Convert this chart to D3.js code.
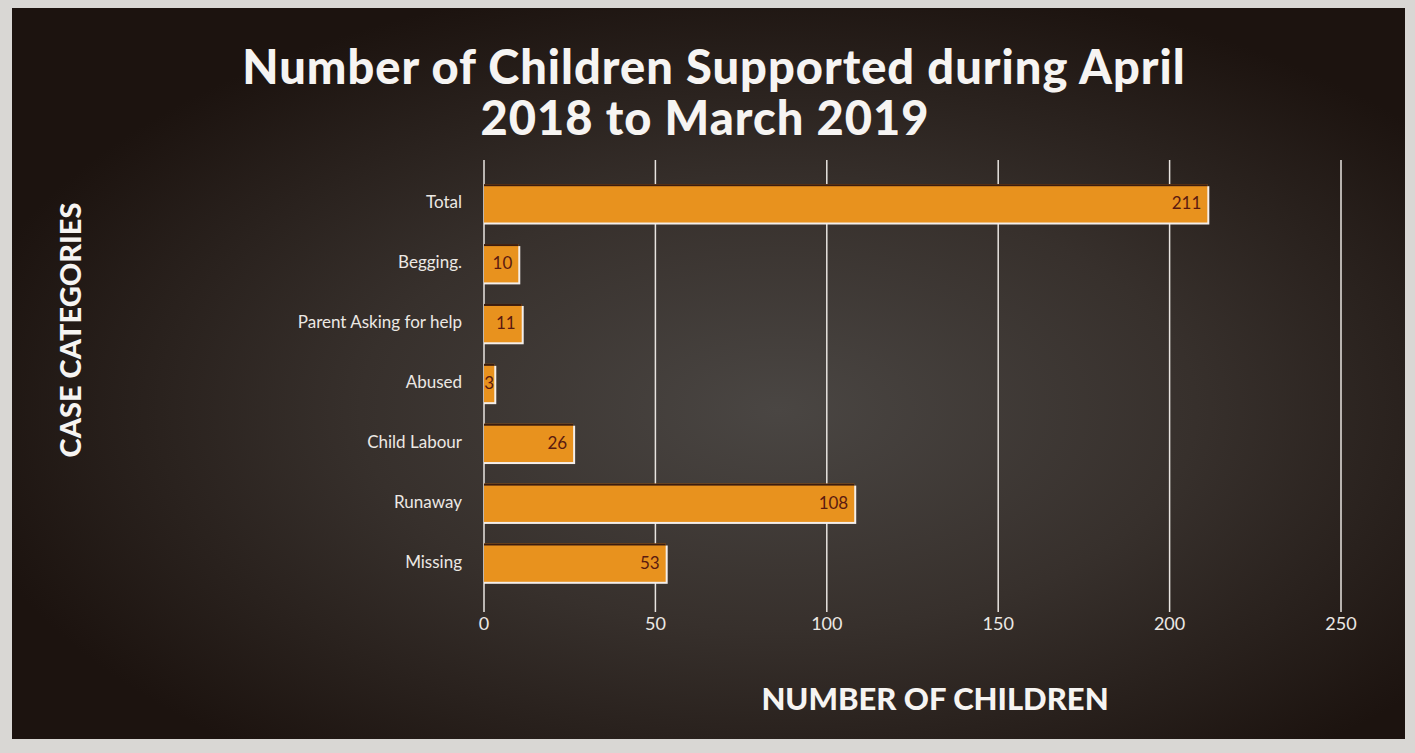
<!DOCTYPE html>
<html>
<head>
<meta charset="utf-8">
<script src="https://cdn.jsdelivr.net/npm/d3@7"></script>
<style>
  body { margin: 0; background: #d9d7d4; }
  svg { display: block; }
  text { font-family: "Lato", "Open Sans", sans-serif; }
</style>
</head>
<body>
<svg></svg>
<script>
var width = 1415,
    height = 753;

// data
var categories = ["Total", "Begging.", "Parent Asking for help", "Abused", "Child Labour", "Runaway", "Missing"];
var values = [211, 10, 11, 3, 26, 108, 53];
var ticks = [0, 50, 100, 150, 200, 250];

var margin = { top: 183, left: 484, right: 74, bottom: 170 };

var svg = d3.select("svg")
    .attr("width", width)
    .attr("height", height);

var defs = svg.append("defs");
var grad = defs.append("radialGradient")
    .attr("id", "bg")
    .attr("cx", "55%").attr("cy", "55%").attr("r", "60%");
grad.append("stop").attr("offset", "0%").attr("stop-color", "#4a4643");
grad.append("stop").attr("offset", "50%").attr("stop-color", "#37302c");
grad.append("stop").attr("offset", "100%").attr("stop-color", "#1c130f");

// dark card
svg.append("rect")
    .attr("x", 12).attr("y", 8)
    .attr("width", width - 22).attr("height", height - 22)
    .attr("fill", "url(#bg)");

var x = d3.scaleLinear()
    .domain([0, 250])
    .range([margin.left, width - margin.right]);

var y = d3.scaleBand()
    .domain(categories)
    .range([margin.top, height - margin.bottom])
    .paddingInner(0.36)
    .paddingOuter(0.02);

// grid
svg.append("g")
    .selectAll("line")
    .data(ticks)
    .enter().append("line")
    .attr("x1", d => x(d)).attr("x2", d => x(d))
    .attr("y1", 160).attr("y2", 612)
    .attr("stroke", "#e8e4e0")
    .attr("stroke-width", 1.5);

svg.append("g")
    .selectAll("text")
    .data(ticks)
    .enter().append("text")
    .attr("x", d => x(d))
    .attr("y", 630)
    .attr("text-anchor", "middle")
    .attr("fill", "#ece8e4")
    .attr("font-size", 18)
    .text(d => d);

// bars
var rows = categories.map((c, i) => ({ name: c, value: values[i] }));

var bar = svg.append("g")
    .selectAll("g")
    .data(rows)
    .enter().append("g")
    .attr("transform", d => "translate(0," + y(d.name) + ")");

// white highlight under/right of bar
bar.append("rect")
    .attr("x", x(0))
    .attr("y", 2)
    .attr("width", d => x(d.value) - x(0) + 2)
    .attr("height", y.bandwidth())
    .attr("fill", "#f4eeea");

bar.append("rect")
    .attr("x", x(0))
    .attr("y", 0)
    .attr("width", d => x(d.value) - x(0))
    .attr("height", y.bandwidth())
    .attr("fill", "#e8921e");

bar.append("rect")
    .attr("x", x(0))
    .attr("y", 0)
    .attr("width", d => x(d.value) - x(0))
    .attr("height", 2)
    .attr("fill", "#3a1c10");

bar.append("text")
    .attr("x", d => x(d.value) - x(0) < 30 ? (x(d.value) + x(0)) / 2 : x(d.value) - 6)
    .attr("y", y.bandwidth() / 2)
    .attr("dy", "0.36em")
    .attr("text-anchor", d => x(d.value) - x(0) < 30 ? "middle" : "end")
    .attr("fill", "#5a1a10")
    .attr("font-size", 17)
    .text(d => d.value);

// category labels
bar.append("text")
    .attr("x", x(0) - 22)
    .attr("y", y.bandwidth() / 2)
    .attr("dy", "0.3em")
    .attr("text-anchor", "end")
    .attr("fill", "#ece8e4")
    .attr("font-size", 17)
    .text(d => d.name);

// title
var title = svg.append("text")
    .attr("text-anchor", "middle")
    .attr("fill", "#f6f4f2")
    .attr("font-size", 47)
    .attr("font-weight", 900)
    .attr("letter-spacing", 1);
title.append("tspan").attr("x", 714).attr("y", 84).text("Number of Children Supported during April");
title.append("tspan").attr("x", 705).attr("y", 135).text("2018 to March 2019");

// axis titles
svg.append("text")
    .attr("x", 935)
    .attr("y", 710)
    .attr("text-anchor", "middle")
    .attr("fill", "#f6f4f2")
    .attr("font-size", 31)
    .attr("font-weight", 900)
    .text("NUMBER OF CHILDREN");

svg.append("text")
    .attr("transform", "translate(81,330) rotate(-90)")
    .attr("text-anchor", "middle")
    .attr("fill", "#f6f4f2")
    .attr("font-size", 29)
    .attr("font-weight", 900)
    .text("CASE CATEGORIES");
</script>
</body>
</html>
